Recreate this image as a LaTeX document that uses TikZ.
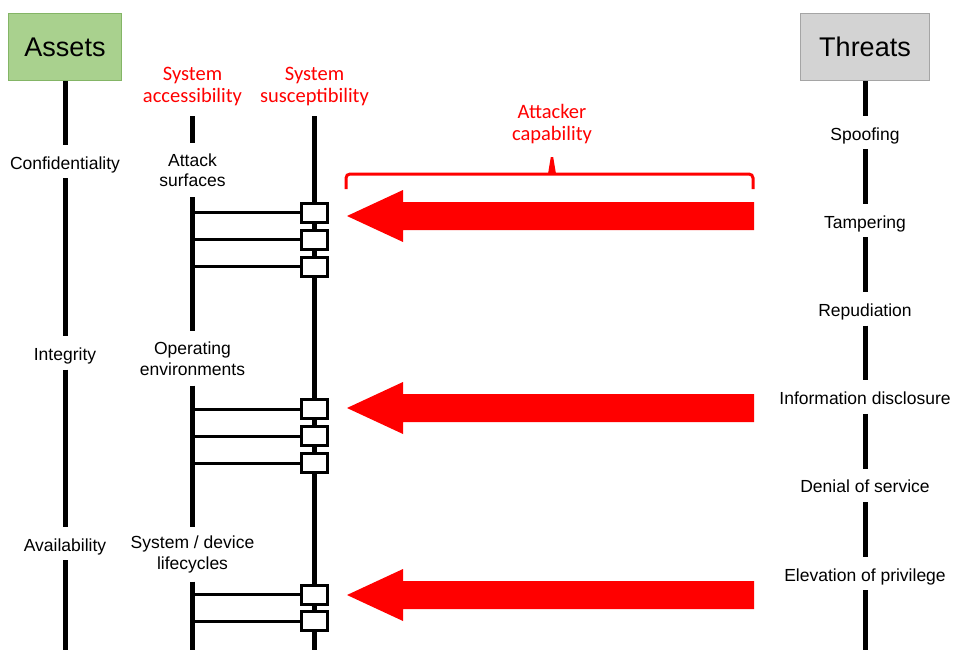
\documentclass[tikz,border=0pt]{standalone}
\usepackage{fontspec}
\setmainfont{Liberation Sans}
\newfontfamily\capfont{Carlito}
\usepackage{tikz}
\usetikzlibrary{positioning, calc}

\definecolor{assetgreen}{HTML}{A9D18E}
\definecolor{assetedge}{HTML}{84B566}
\definecolor{threatgray}{HTML}{D3D3D3}
\definecolor{threatedge}{HTML}{A5A5A5}
\definecolor{capred}{HTML}{FF0000}

\begin{document}
\begin{tikzpicture}[x=1pt, y=-1pt,
		title/.style={font=\fontsize{27}{30}\selectfont, minimum height=67.5pt, inner sep=0pt, line width=1pt},
		item/.style={font=\fontsize{17.5}{21}\selectfont, inner sep=0pt, text height=18pt, text depth=3pt, minimum height=33pt},
		item2/.style={font=\fontsize{17.5}{20.5}\selectfont, inner sep=0pt, align=center, minimum height=54pt},
		head/.style={font=\capfont\fontsize{20.5}{22}\selectfont, text=capred, inner sep=0pt, align=center, minimum height=58.5pt},
		spine/.style={line width=5pt},
		tie/.style={line width=3pt},
		vuln/.style={draw, line width=3pt, fill=white, minimum width=26pt, minimum height=19pt, inner sep=0pt},
		attack/.style={fill=capred}]
		\useasboundingbox (0,0) rectangle (955,650);

		\node[title, fill=assetgreen, draw=assetedge, minimum width=113pt] (assets) at (65,47) {Assets};
		\node[title, fill=threatgray, draw=threatedge, minimum width=129pt] (threats) at (865,47) {Threats};

		\node[item] (conf) at (65,161.5) {Confidentiality};
		\node[item] (integ) at (65,353) {Integrity};
		\node[item] (avail) at (65,543.5) {Availability};
		\coordinate (assets-end) at (65,650);
		\draw[spine] (assets) -- (conf) -- (integ) -- (avail) -- (assets-end);

		\foreach \t [count=\i] in {Spoofing, Tampering, Repudiation, Information disclosure, Denial of service, Elevation of privilege}
			\node[item] (t\i) at (865,44.3+88.2*\i) {\t};
		\coordinate (threats-end) at (865,650);
		\draw[spine] (threats) -- (t1) -- (t2) -- (t3) -- (t4) -- (t5) -- (t6) -- (threats-end);

		\node[head] (acc) at (192.5,86.75) {System\\accessibility};
		\node[head] (susc) at (314.5,86.75) {System\\susceptibility};

		\node[item2] (surf) at (192.5,170) {Attack\\surfaces};
		\node[item2] (oper) at (192.5,358.5) {Operating\\environments};
		\node[item2] (life) at (192.5,554.5) {System / device\\lifecycles};
		\coordinate (acc-end) at (192.5,650);
		\draw[spine] (acc) -- (surf) -- (oper) -- (life) -- (acc-end);

		\node[vuln] (b11) at (314.5,212.5) {};
		\node[vuln] (b12) at (314.5,239.5) {};
		\node[vuln] (b13) at (314.5,266.5) {};
		\node[vuln] (b21) at (314.5,409) {};
		\node[vuln] (b22) at (314.5,436) {};
		\node[vuln] (b23) at (314.5,463) {};
		\node[vuln] (b31) at (314.5,594.5) {};
		\node[vuln] (b32) at (314.5,621) {};
		\coordinate (susc-end) at (314.5,650);
		\draw[spine] (susc) -- (b11) -- (b12) -- (b13) -- (b21) -- (b22) -- (b23) -- (b31) -- (b32) -- (susc-end);

		\foreach \b in {b11,b12,b13,b21,b22,b23,b31,b32}
			\draw[tie] (\b.west) -- (\b.west -| acc);

		\node[head] (cap) at (552,124) {Attacker\\capability};
		\draw[capred, line width=3pt, rounded corners=4pt] (346,189) -- (346,174) -- (753,174) -- (753,189);
		\fill[capred] (548,174) -- (550.8,157) -- (553.2,157) -- (556,174) -- cycle;

		\foreach \y [count=\i] in {216,408,595} {
			\coordinate (tip\i) at (347,\y);
			\fill[attack] (tip\i) -- ++(56,-26) -- ++(0,12) -- ++(351,0) -- ++(0,28) -- ++(-351,0) -- ++(0,12) -- cycle;
		}
	\end{tikzpicture}
\end{document}
